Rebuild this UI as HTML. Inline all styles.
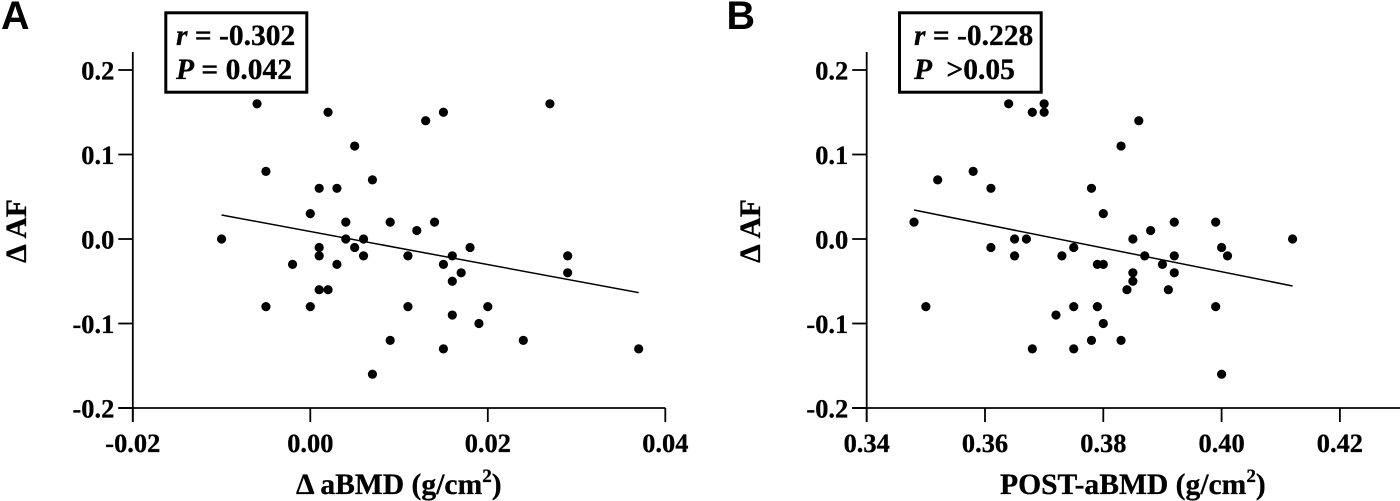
<!DOCTYPE html>
<html lang="en">
<head>
<meta charset="utf-8">
<title>Change in AF versus aBMD scatter plots</title>
<style>
  html, body { margin: 0; padding: 0; background: #fff; }
  body { width: 1400px; height: 501px; overflow: hidden; }
  svg { display: block; }
  text { font-family: "Liberation Serif", serif; font-weight: bold; fill: #000; stroke: #000; stroke-width: 0.3px; }
  .tick-text { font-size: 26.4px; }
  .axis-title { font-size: 29.6px; }
  .stat-text { font-size: 29.5px; }
  .panel-letter { font-family: "Liberation Sans", sans-serif; font-size: 39.5px; stroke-width: 0; }
</style>
</head>
<body>
<svg id="figure" xmlns="http://www.w3.org/2000/svg" width="1400" height="501" viewBox="0 0 1400 501">
  <rect x="0" y="0" width="1400" height="501" fill="#fff"/>

  <text class="panel-letter" x="1" y="29">A</text>
  <text class="panel-letter" x="726.5" y="29">B</text>

  <g id="panel-a"></g>
  <g id="panel-b"></g>

  <rect x="165.8" y="12.8" width="141" height="79.4" fill="#fff" stroke="#000" stroke-width="3"/>
  <text class="stat-text" x="176" y="45"><tspan font-style="italic">r</tspan> = -0.302</text>
  <text class="stat-text" x="176" y="79"><tspan font-style="italic">P</tspan> = 0.042</text>

  <rect x="899.5" y="12.8" width="141.7" height="79.4" fill="#fff" stroke="#000" stroke-width="3"/>
  <text class="stat-text" x="914" y="45"><tspan font-style="italic">r</tspan> = -0.228</text>
  <text class="stat-text" x="914" y="79"><tspan font-style="italic">P</tspan>  <tspan dx="7">&gt;0.05</tspan></text>

  <text class="axis-title" transform="translate(26 231) rotate(-90)" text-anchor="middle">Δ AF</text>
  <text class="axis-title" transform="translate(760 231) rotate(-90)" text-anchor="middle">Δ AF</text>

  <text class="axis-title" x="296" y="494">Δ aBMD (g/cm<tspan font-size="19" dy="-12">2</tspan><tspan dy="12">)</tspan></text>
  <text class="axis-title" x="1000" y="494">POST-aBMD (g/cm<tspan font-size="19" dy="-12">2</tspan><tspan dy="12">)</tspan></text>
</svg>

<script>
var yTickValues = [0.2, 0.1, 0.0, -0.1, -0.2];
var yTickLabels = ["0.2", "0.1", "0.0", "-0.1", "-0.2"];

var xTickValuesA = [-0.02, 0.00, 0.02, 0.04];
var xTickLabelsA = ["-0.02", "0.00", "0.02", "0.04"];
var xValuesA = [-0.010, -0.006, -0.005, -0.005, -0.002, 0.000, 0.000, 0.001, 0.001, 0.001, 0.001, 0.002, 0.002, 0.003, 0.003, 0.004, 0.004, 0.005, 0.005, 0.006, 0.006, 0.007, 0.007, 0.009, 0.009, 0.011, 0.011, 0.012, 0.013, 0.014, 0.015, 0.015, 0.015, 0.016, 0.016, 0.016, 0.017, 0.018, 0.019, 0.020, 0.024, 0.027, 0.029, 0.029, 0.037];
var yValuesA = [0.00, 0.16, 0.08, -0.08, -0.03, 0.03, -0.08, 0.06, -0.01, -0.02, -0.06, 0.15, -0.06, 0.06, -0.03, 0.02, 0.00, 0.11, -0.01, 0.00, -0.02, 0.07, -0.16, 0.02, -0.12, -0.02, -0.08, 0.01, 0.14, 0.02, 0.15, -0.03, -0.13, -0.02, -0.05, -0.09, -0.04, -0.01, -0.10, -0.08, -0.12, 0.16, -0.02, -0.04, -0.13];
var fitXA = [-0.010, 0.037];
var fitYA = [0.0284, -0.0635];

var xTickValuesB = [0.34, 0.36, 0.38, 0.40, 0.42];
var xTickLabelsB = ["0.34", "0.36", "0.38", "0.40", "0.42"];
var xValuesB = [0.348, 0.350, 0.352, 0.358, 0.361, 0.361, 0.364, 0.365, 0.365, 0.367, 0.368, 0.368, 0.370, 0.370, 0.372, 0.373, 0.375, 0.375, 0.375, 0.378, 0.378, 0.379, 0.379, 0.380, 0.380, 0.380, 0.383, 0.383, 0.384, 0.385, 0.385, 0.385, 0.386, 0.387, 0.388, 0.390, 0.391, 0.392, 0.392, 0.392, 0.399, 0.399, 0.400, 0.400, 0.401, 0.412];
var yValuesB = [0.02, -0.08, 0.07, 0.08, 0.06, -0.01, 0.16, 0.00, -0.02, 0.00, 0.15, -0.13, 0.16, 0.15, -0.09, -0.02, -0.01, -0.08, -0.13, 0.06, -0.12, -0.03, -0.08, 0.03, -0.03, -0.10, 0.11, -0.12, -0.06, 0.00, -0.04, -0.05, 0.14, -0.02, 0.01, -0.03, -0.06, 0.02, -0.02, -0.04, 0.02, -0.08, -0.01, -0.16, -0.02, 0.00];
var fitXB = [0.348, 0.412];
var fitYB = [0.0343, -0.0556];

var SVG_NS = "http://www.w3.org/2000/svg";

function yScale(v) {
  return 239 - v * 845;
}
function xScaleA(v) {
  return 310.3 + v * 8875;
}
function xScaleB(v) {
  return 866.7 + (v - 0.34) * 5915;
}

function segment(parent, x1, y1, x2, y2, width) {
  var el = document.createElementNS(SVG_NS, "line");
  el.setAttribute("x1", x1);
  el.setAttribute("y1", y1);
  el.setAttribute("x2", x2);
  el.setAttribute("y2", y2);
  el.setAttribute("stroke", "#000");
  el.setAttribute("stroke-width", width);
  parent.appendChild(el);
  return el;
}

function label(parent, x, y, anchor, str) {
  var el = document.createElementNS(SVG_NS, "text");
  el.setAttribute("class", "tick-text");
  el.setAttribute("x", x);
  el.setAttribute("y", y);
  el.setAttribute("text-anchor", anchor);
  el.textContent = str;
  parent.appendChild(el);
  return el;
}

function drawPanel(id, xScale, xTicks, xTickText, xs, ys, fitX, fitY, xAxisEnd) {
  var g = document.getElementById(id);
  var x0 = xScale(xTicks[0]);
  var yBase = yScale(-0.2);

  var yAxis = segment(g, x0, 52, x0, 422, 1.8);
  
  

  var xAxis = segment(g, x0 - 14.5, yBase, xAxisEnd, yBase, 1.8);
  
  

  yTickValues.forEach(function (v, i) {
    var py = yScale(v);
    var tick = segment(g, x0 - 14.5, py, x0, py, 1.8);
    
    
    var t = label(g, x0 - 18.5, py + 9.5, "end", yTickLabels[i]);
    
    
  });

  xTicks.forEach(function (v, i) {
    var px = xScale(v);
    var tick = segment(g, px, yBase, px, 422, 1.8);
    
    
    var t = label(g, px, 452, "middle", xTickText[i]);
    
    
  });

  var fit = segment(g, xScale(fitX[0]), yScale(fitY[0]), xScale(fitX[1]), yScale(fitY[1]), 1.5);
  
  

  xs.forEach(function (v, i) {
    var c = document.createElementNS(SVG_NS, "circle");
    c.setAttribute("cx", xScale(v));
    c.setAttribute("cy", yScale(ys[i]));
    c.setAttribute("r", 4.6);
    c.setAttribute("fill", "#000");
    
    
    g.appendChild(c);
  });
}

drawPanel("panel-a", xScaleA, xTickValuesA, xTickLabelsA, xValuesA, yValuesA, fitXA, fitYA, xScaleA(0.04));
drawPanel("panel-b", xScaleB, xTickValuesB, xTickLabelsB, xValuesB, yValuesB, fitXB, fitYB, 1400);
</script>
</body>
</html>
